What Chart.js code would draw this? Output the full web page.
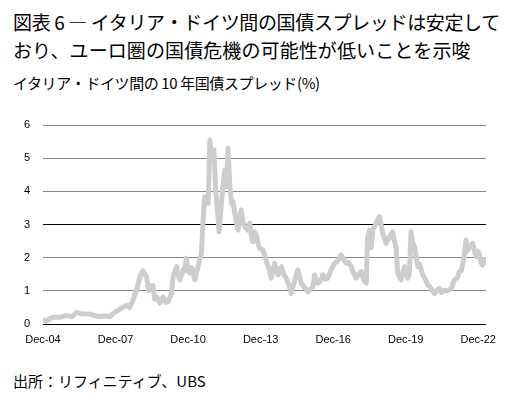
<!DOCTYPE html>
<html lang="ja">
<head>
<meta charset="utf-8">
<title>イタリア・ドイツ間の国債スプレッド</title>
<script src="https://cdn.jsdelivr.net/npm/chart.js@4.4.0/dist/chart.umd.min.js"></script>
<style>
  body { margin: 0; width: 509px; height: 399px; background: #fff; color: #000;
         font-family: "Noto Sans CJK JP", sans-serif; position: relative; overflow: hidden; }
  .title { position: absolute; left: 13px; top: 8px; font-size: 19px; line-height: 28px; white-space: nowrap; }
  .title .l1 { letter-spacing: -0.35px; }
  .title .l2 { letter-spacing: 0.1px; }
  .sub { position: absolute; left: 13px; top: 73px; font-size: 15px; line-height: 20px; white-space: nowrap; letter-spacing: -0.4px; }
  .chart { position: absolute; left: 0; top: 100px; width: 509px; height: 255px; }
  .src { position: absolute; left: 13px; top: 371px; font-size: 15px; line-height: 20px; white-space: nowrap; }
</style>
</head>
<body>
  <div class="title">
    <div class="l1">図表 6 — イタリア・ドイツ間の国債スプレッドは安定して</div>
    <div class="l2">おり、ユーロ圏の国債危機の可能性が低いことを示唆</div>
  </div>
  <div class="sub">イタリア・ドイツ間の 10 年国債スプレッド(%)</div>
  <div class="chart"><canvas id="spreadChart"></canvas></div>
  <div class="src">出所：リフィニティブ、UBS</div>

<script>
// time in decimal years, spread in %
const dates = [
  2004.92, 2005.04, 2005.29, 2005.62, 2005.87, 2006.12, 2006.31, 2006.53, 2006.86, 2007.07,
  2007.27, 2007.48, 2007.69, 2007.89, 2008.10, 2008.38, 2008.51, 2008.64, 2008.79, 2008.93,
  2009.05, 2009.20, 2009.30, 2009.36, 2009.47, 2009.54, 2009.63, 2009.75, 2009.89, 2010.00,
  2010.09, 2010.23, 2010.30, 2010.44, 2010.49, 2010.58, 2010.71, 2010.78, 2010.85, 2010.91,
  2010.99, 2011.07, 2011.20, 2011.33, 2011.47, 2011.54, 2011.61, 2011.67, 2011.75, 2011.82,
  2011.89, 2011.94, 2011.99, 2012.06, 2012.15, 2012.20, 2012.30, 2012.37, 2012.44, 2012.51,
  2012.57, 2012.64, 2012.71, 2012.77, 2012.85, 2012.91, 2012.98, 2013.05, 2013.12, 2013.18,
  2013.26, 2013.40, 2013.47, 2013.55, 2013.60, 2013.67, 2013.74, 2013.81, 2013.88, 2014.02,
  2014.16, 2014.25, 2014.36, 2014.50, 2014.64, 2014.78, 2014.87, 2014.98, 2015.08, 2015.19,
  2015.33, 2015.46, 2015.60, 2015.74, 2015.87, 2015.99, 2016.08, 2016.15, 2016.29, 2016.40,
  2016.49, 2016.61, 2016.70, 2016.81, 2016.98, 2017.10, 2017.25, 2017.35, 2017.46, 2017.55,
  2017.67, 2017.76, 2017.87, 2017.97, 2018.08, 2018.17, 2018.29, 2018.34, 2018.42, 2018.49,
  2018.56, 2018.70, 2018.83, 2018.90, 2018.97, 2019.11, 2019.25, 2019.38, 2019.45, 2019.52,
  2019.59, 2019.73, 2019.87, 2020.00, 2020.07, 2020.14, 2020.20, 2020.28, 2020.42, 2020.49,
  2020.62, 2020.73, 2020.83, 2020.94, 2021.11, 2021.19, 2021.31, 2021.39, 2021.52, 2021.64,
  2021.80, 2021.93, 2022.06, 2022.14, 2022.22, 2022.34, 2022.41, 2022.47, 2022.55, 2022.69,
  2022.76, 2022.83, 2022.88, 2022.96, 2023.03, 2023.10, 2023.17, 2023.24
];
const spread = [
  0.15, 0.08, 0.20, 0.20, 0.26, 0.22, 0.35, 0.30, 0.30, 0.25,
  0.22, 0.25, 0.22, 0.35, 0.45, 0.57, 0.50, 0.72, 1.02, 1.43,
  1.60, 1.43, 1.00, 1.15, 1.15, 0.75, 0.80, 0.63, 0.82, 0.65,
  0.67, 0.92, 1.43, 1.73, 1.50, 1.33, 1.63, 1.60, 1.98, 1.70,
  1.53, 1.70, 1.33, 1.73, 2.13, 3.14, 3.84, 3.70, 3.64, 5.55,
  4.94, 5.10, 5.25, 4.04, 3.30, 2.78, 3.64, 4.20, 4.64, 4.14,
  5.30, 4.24, 3.64, 3.70, 3.35, 3.10, 2.83, 3.20, 3.44, 3.10,
  2.93, 2.83, 3.04, 2.60, 2.48, 2.78, 2.68, 2.43, 2.28, 2.23,
  1.88, 1.70, 1.38, 1.83, 1.48, 1.73, 1.50, 1.38, 1.20, 0.92,
  1.33, 1.63, 1.23, 1.10, 0.97, 1.05, 1.12, 1.48, 1.23, 1.30,
  1.48, 1.35, 1.38, 1.60, 1.83, 1.90, 2.08, 1.95, 1.83, 1.85,
  1.73, 1.55, 1.38, 1.50, 1.58, 1.35, 1.23, 2.60, 2.83, 2.30,
  2.83, 3.04, 3.24, 3.00, 2.73, 2.43, 2.63, 2.78, 2.50, 2.33,
  1.53, 1.33, 1.73, 1.38, 1.50, 2.78, 2.50, 2.33, 1.73, 1.80,
  1.48, 1.35, 1.18, 1.10, 0.92, 1.00, 1.07, 0.95, 1.02, 1.00,
  1.07, 1.33, 1.40, 1.58, 1.60, 2.03, 2.53, 2.20, 2.33, 2.43,
  2.20, 2.03, 2.20, 2.13, 1.85, 1.78, 1.95, 1.88
];
const tickDates = [2004.92, 2007.92, 2010.92, 2013.92, 2016.92, 2019.92, 2022.92];
const tickLabels = ['Dec-04', 'Dec-07', 'Dec-10', 'Dec-13', 'Dec-16', 'Dec-19', 'Dec-22'];

const points = dates.map((d, i) => ({ x: d, y: spread[i] }));
const tickFont = { family: '"Liberation Sans", sans-serif', size: 11 };

new Chart(document.getElementById('spreadChart'), {
  type: 'line',
  data: {
    datasets: [{
      data: points,
      borderColor: '#cdcdcd',
      borderWidth: 5,
      borderJoinStyle: 'round',
      pointRadius: 0,
      tension: 0,
      fill: false
    }]
  },
  options: {
    responsive: true,
    maintainAspectRatio: false,
    animation: false,
    layout: { padding: { top: 25, right: 23, left: 0, bottom: 0 } },
    plugins: { legend: { display: false }, tooltip: { enabled: false } },
    scales: {
      x: {
        type: 'linear',
        min: 2004.92,
        max: 2023.24,
        afterBuildTicks: (scale) => { scale.ticks = tickDates.map(v => ({ value: v })); },
        afterFit: (scale) => { scale.height = 31; },
        grid: { display: false, drawTicks: false },
        border: { display: false },
        ticks: {
          padding: 9,
          color: '#000',
          font: tickFont,
          maxRotation: 0,
          autoSkip: false,
          callback: (v) => tickLabels[tickDates.indexOf(v)]
        }
      },
      y: {
        min: 0,
        max: 6,
        afterFit: (scale) => { scale.width = 43; },
        grid: {
          drawTicks: false,
          color: (c) => (c.tick && (c.tick.value === 0 || c.tick.value === 3)) ? '#000' : '#868686',
          lineWidth: 1
        },
        border: { display: false },
        ticks: { stepSize: 1, padding: 13, color: '#000', font: tickFont }
      }
    }
  }
});
</script>
</body>
</html>
